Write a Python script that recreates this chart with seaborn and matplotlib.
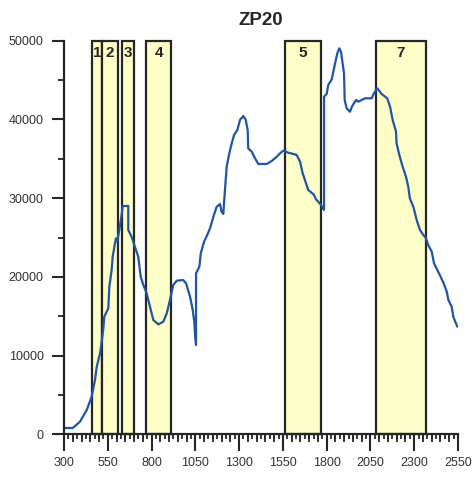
import numpy as np
import pandas as pd
import matplotlib
matplotlib.use("Agg")
import matplotlib.pyplot as plt
import seaborn as sns

# ---- data ----
wavelength = [300, 350, 391, 430, 458, 477, 487, 506, 524, 530, 553, 559, 572, 578, 591, 597, 604, 616, 629, 635,
              667, 667, 686, 705, 724, 738, 753, 772, 791, 810, 839, 867, 887, 905, 924, 944, 981, 997, 1020, 1035,
              1044, 1048, 1054, 1054, 1073, 1081, 1100, 1118, 1134, 1153, 1172, 1191, 1200, 1210, 1215, 1224, 1229,
              1244, 1258, 1271, 1290, 1305, 1324, 1338, 1349, 1352, 1372, 1391, 1410, 1458, 1486, 1515, 1534, 1552,
              1581, 1610, 1629, 1648, 1663, 1676, 1695, 1714, 1728, 1739, 1752, 1768, 1785, 1785, 1800, 1809, 1829,
              1838, 1848, 1861, 1872, 1882, 1891, 1899, 1903, 1914, 1933, 1946, 1968, 1981, 2000, 2018, 2057, 2070,
              2089, 2114, 2146, 2162, 2177, 2196, 2199, 2215, 2234, 2253, 2266, 2275, 2295, 2314, 2333, 2352, 2367,
              2380, 2400, 2413, 2432, 2451, 2468, 2486, 2495, 2514, 2523, 2546]
intensity = [800, 800, 1600, 3090, 4780, 6900, 8590, 10290, 13250, 14940, 16000, 18750, 20870, 22560, 24260, 24900,
             24470, 25950, 27860, 29000, 29000, 25950, 25100, 23830, 22560, 20020, 18970, 17910, 16210, 14520, 13970,
             14300, 15370, 17060, 18970, 19510, 19600, 19180, 17480, 15790, 14300, 12830, 11340, 20450, 21290, 22990,
             24470, 25320, 26170, 27640, 28910, 29250, 28270, 27990, 29760, 32520, 34000, 35690, 36970, 38020, 38660,
             39930, 40430, 39930, 38660, 36330, 35900, 35060, 34340, 34340, 34720, 35260, 35690, 36030, 35770, 35610,
             35480, 34630, 33150, 32300, 31030, 30690, 30400, 29850, 29550, 29130, 28490, 42890, 43230, 44370, 45100,
             46060, 47130, 48400, 49030, 48600, 47130, 45860, 42470, 41410, 40980, 41700, 42470, 42250, 42470, 42680,
             42680, 43320, 43950, 43230, 42680, 41620, 39930, 38440, 36970, 35480, 33990, 32720, 31450, 29980, 28910,
             27220, 25950, 25320, 24900, 24050, 23200, 21720, 20870, 20020, 19180, 18110, 17060, 16210, 14940, 13670]

band_labels = ["1", "2", "3", "4", "5", "7"]
band_start = [460, 515, 630, 770, 1560, 2080]
band_end = [515, 610, 700, 910, 1765, 2365]
band_top = 50000

x_ticks = [300, 550, 800, 1050, 1300, 1550, 1800, 2050, 2300, 2550]
y_ticks = [0, 10000, 20000, 30000, 40000, 50000]
title = "ZP20"

# ---- style ----
sns.set_style("ticks")
plt.rcParams['font.family'] = ['Liberation Sans', 'DejaVu Sans']

fig = plt.figure(figsize=(4.74, 4.80), dpi=100)
ax = fig.add_axes([64 / 474, 45.7 / 480, 394 / 474, 393.6 / 480])

dark = "#262626"
line_blue = "#1f56a3"
band_fill = "#fefec8"

for s, e, lab in zip(band_start, band_end, band_labels):
    ax.axvspan(s, e, ymin=0, ymax=band_top / 50000, facecolor=band_fill, edgecolor=dark,
               linewidth=1.6, zorder=1, clip_on=False)
    ax.text((s + e) / 2, 48400, lab, ha="center", va="center", fontsize=11,
            fontweight="bold", color=dark, zorder=3)

df = pd.DataFrame({"wavelength": wavelength, "intensity": intensity})
sns.lineplot(data=df, x="wavelength", y="intensity", estimator=None, sort=False,
             color=line_blue, linewidth=1.6, ax=ax, zorder=2)

ax.set_xlim(300, 2550)
ax.set_ylim(0, 50000)
ax.set_xlabel("")
ax.set_ylabel("")
ax.set_title(title, fontsize=13.5, fontweight="bold", color=dark, pad=11)

ax.set_xticks(x_ticks)
ax.set_xticklabels([str(v) for v in x_ticks])
ax.set_xticks(np.arange(300, 2551, 25), minor=True)
ax.set_yticks(y_ticks)
ax.set_yticklabels([str(v) for v in y_ticks])
ax.set_yticks(np.arange(0, 50001, 5000), minor=True)

for side in ["top", "right"]:
    ax.spines[side].set_visible(False)
for side in ["left", "bottom"]:
    ax.spines[side].set_linewidth(1.6)
    ax.spines[side].set_color(dark)

ax.tick_params(axis="x", which="major", length=12, width=1.5, color=dark, labelsize=9,
               labelcolor="#333333", pad=4)
ax.tick_params(axis="x", which="minor", length=3.6, width=1.3, color=dark)
ax.tick_params(axis="y", which="major", length=8.6, width=1.5, color=dark, labelsize=9,
               labelcolor="#333333", pad=6)
ax.tick_params(axis="y", which="minor", length=4.3, width=1.3, color=dark)

# medium ticks every 50
sec = ax.secondary_xaxis("bottom")
sec.set_xticks(np.arange(350, 2550, 50))
sec.set_xticklabels([])
sec.tick_params(length=5.8, width=1.3, color=dark)
sec.spines["bottom"].set_visible(False)

fig.savefig("out.png", dpi=100)
